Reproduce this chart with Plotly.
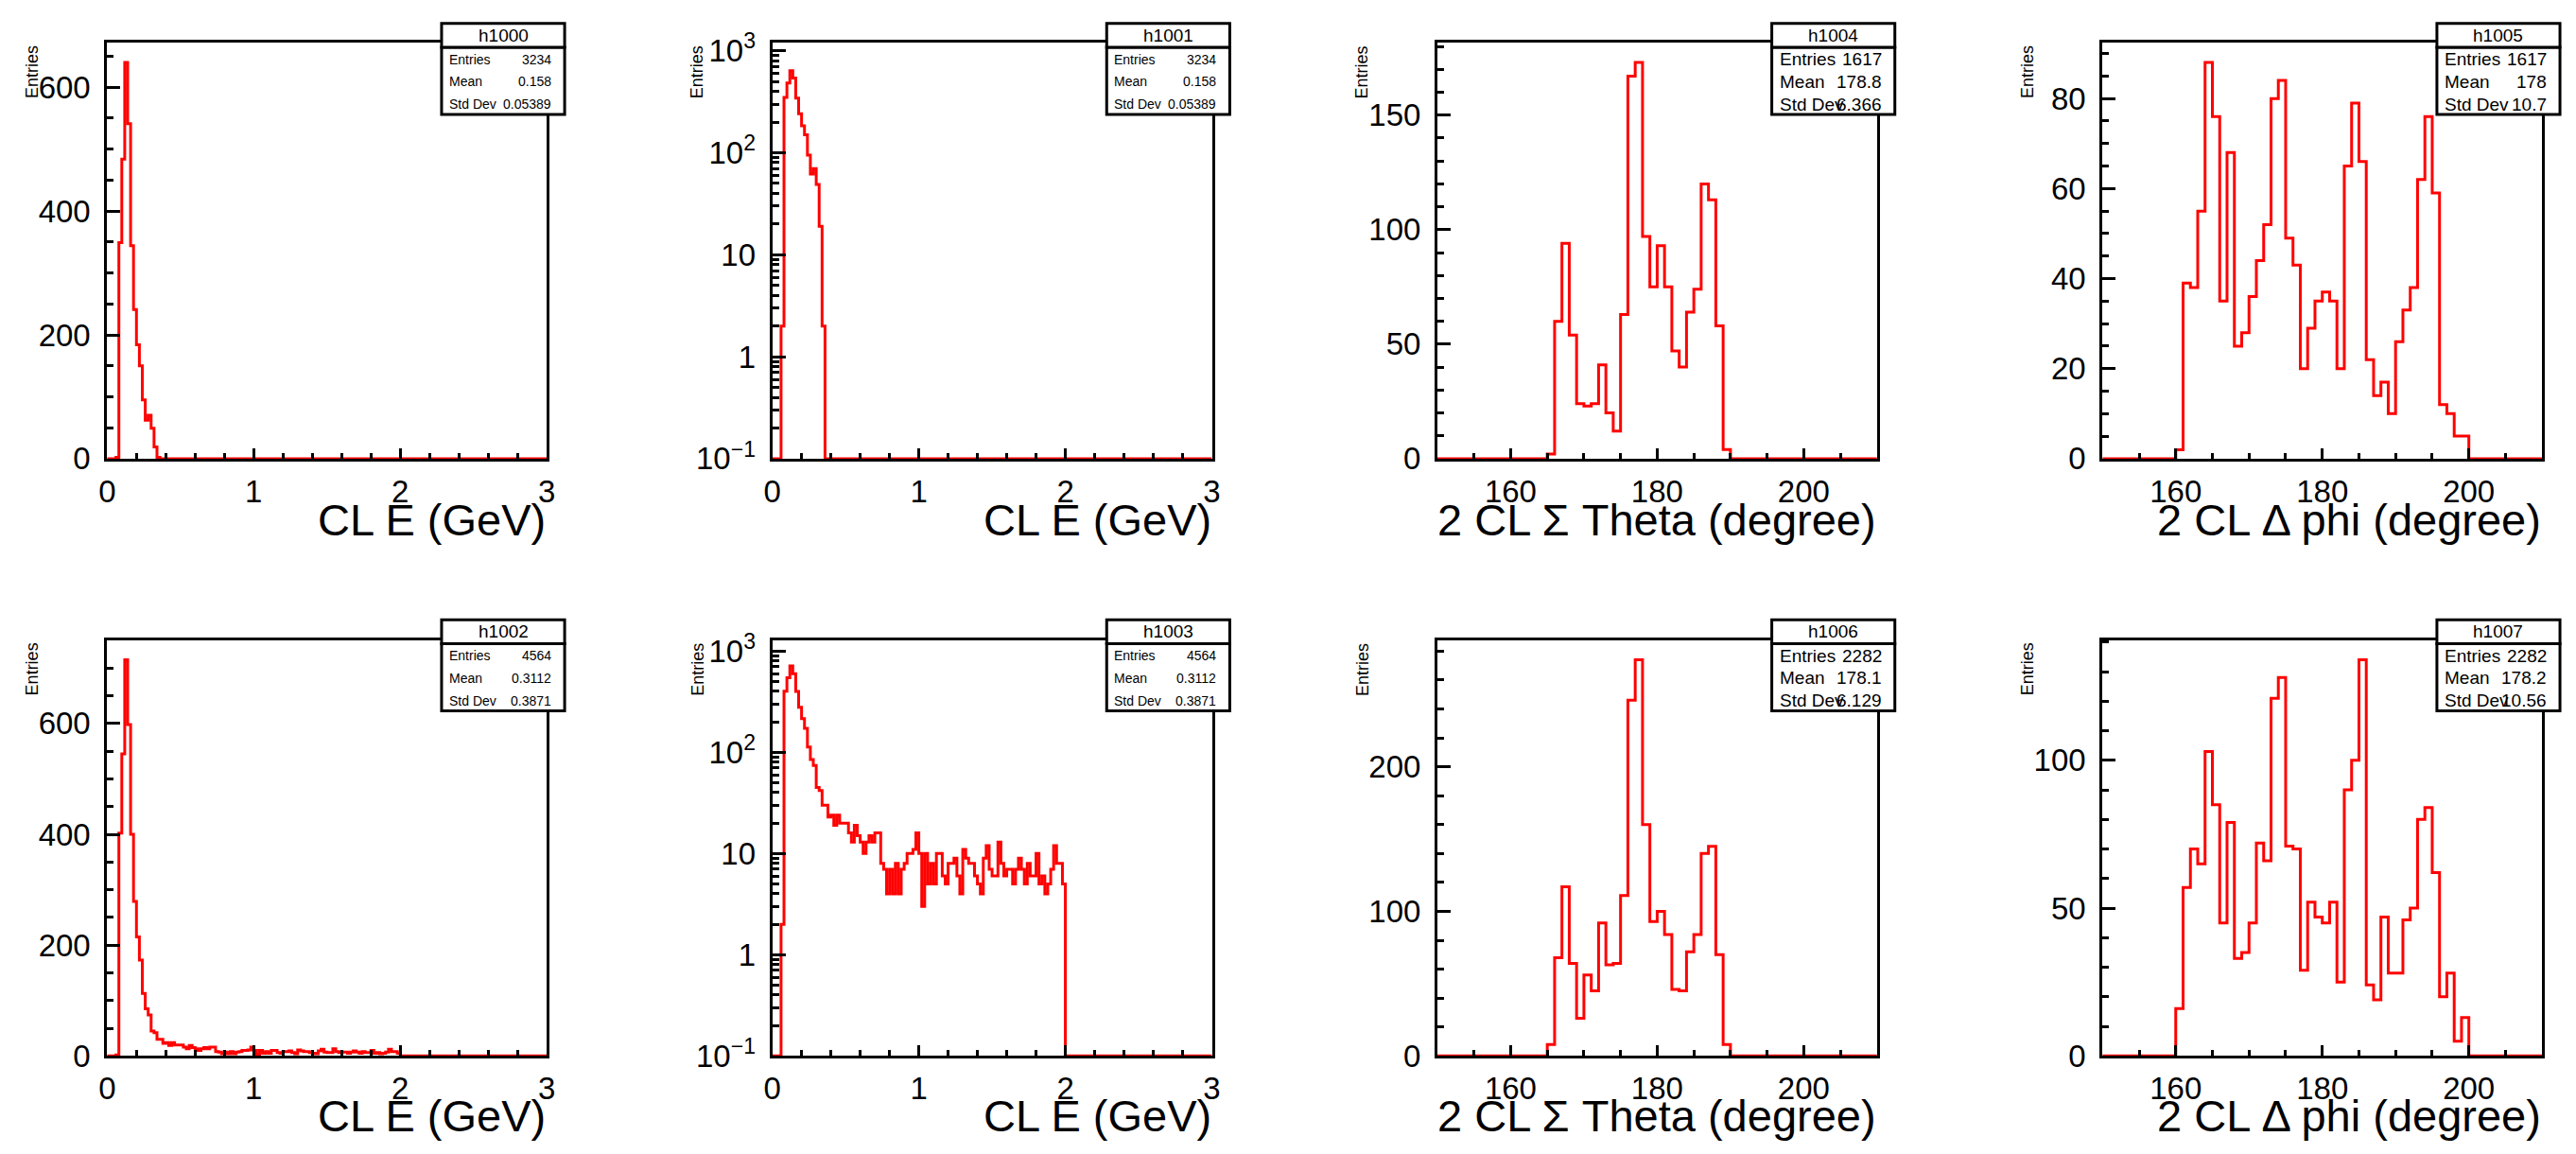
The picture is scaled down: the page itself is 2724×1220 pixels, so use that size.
import plotly.graph_objects as go

W, H = 2724, 1220
FONT = "Liberation Sans, Arial, Helvetica, sans-serif"

# ---------------- data ----------------
E_LO, E_HI, E_NBINS = 0.0, 3.0, 150          # CL E histograms (GeV)
A_LO, A_HI, A_NBINS = 150.0, 210.0, 60       # angle histograms (degree)

# h1000 / h1001 (same content, linear / log)
h1000_first = 0.06
h1000_counts = [2, 349, 484, 640, 541, 344, 241, 184, 150, 95, 62, 70, 49, 19, 2]

# h1002 / h1003 (same content, linear / log)
h1002_first = 0.06
h1002_counts = [2, 402, 545, 715, 598, 400, 279, 215, 173, 113, 85, 74,
                45, 42, 30, 30, 23, 24, 19, 24, 20, 20, 20, 16, 13, 19, 15, 13, 10, 13, 15, 13, 16, 16,
                8, 7, 4, 7, 4, 8, 4, 7, 8, 10, 10, 11, 16, 10, 3, 10, 5, 8, 5, 10,
                10, 6, 5, 8, 8, 9, 6, 4, 11, 9, 8, 8, 6, 5, 4, 9, 12, 7, 6, 6,
                13, 8, 6, 7, 7, 5, 7, 9, 7, 5, 8, 6, 6, 10, 5, 6, 4, 5, 7, 12,
                8, 8, 5]

h1004_first = 165
h1004_counts = [2, 60, 94, 54, 24, 23, 24, 41, 20, 12, 63, 167, 173, 97, 75, 93, 75, 47, 40, 64,
                74, 120, 113, 58, 4]

h1005_first = 160
h1005_counts = [2, 39, 38, 55, 88, 76, 35, 68, 25, 28, 36, 44, 52, 80, 84, 49, 43, 20, 29, 35,
                37, 35, 20, 65, 79, 66, 22, 14, 17, 10, 26, 33, 38, 62, 76, 59, 12, 10, 5, 5]

h1006_first = 165
h1006_counts = [8, 68, 117, 64, 26, 56, 45, 92, 63, 64, 111, 246, 274, 160, 93, 100, 84, 46, 45, 72,
                84, 140, 145, 70, 8]

h1007_first = 160
h1007_counts = [16, 57, 70, 65, 103, 85, 45, 79, 33, 35, 45, 72, 66, 121, 128, 71, 70, 29, 52, 47,
                45, 52, 25, 90, 100, 134, 24, 19, 47, 28, 28, 46, 50, 80, 84, 62, 20, 28, 5, 13]

hist_names = ["h1000", "h1001", "h1004", "h1005", "h1002", "h1003", "h1006", "h1007"]
stat_entries = ["3234", "3234", "1617", "1617", "4564", "4564", "2282", "2282"]
stat_means = ["0.158", "0.158", "178.8", "178", "0.3112", "0.3112", "178.1", "178.2"]
stat_stddevs = ["0.05389", "0.05389", "6.366", "10.7", "0.3871", "0.3871", "6.129", "10.56"]

E_TITLE = "CL E (GeV)"
THETA_TITLE = "2 CL \u03a3 Theta (degree)"
PHI_TITLE = "2 CL \u0394 phi (degree)"
Y_TITLE = "Entries"


def full_hist(first, counts, lo, hi, nbins):
    width = (hi - lo) / nbins
    start = int(round((first - lo) / width))
    vals = [0.0] * nbins
    for i, c in enumerate(counts):
        vals[start + i] = c
    edges = [lo + width * k for k in range(nbins + 1)]
    return edges, vals


eE0, vE0 = full_hist(h1000_first, h1000_counts, E_LO, E_HI, E_NBINS)
eE1, vE1 = full_hist(h1002_first, h1002_counts, E_LO, E_HI, E_NBINS)
eA4, vA4 = full_hist(h1004_first, h1004_counts, A_LO, A_HI, A_NBINS)
eA5, vA5 = full_hist(h1005_first, h1005_counts, A_LO, A_HI, A_NBINS)
eA6, vA6 = full_hist(h1006_first, h1006_counts, A_LO, A_HI, A_NBINS)
eA7, vA7 = full_hist(h1007_first, h1007_counts, A_LO, A_HI, A_NBINS)

# panel: (col,row, edges, values, kind, xtitle, ydtick, yminor, logtop)
panels = [
    (0, 0, eE0, vE0, "Elin", E_TITLE, 200, 50, None),
    (1, 0, eE0, vE0, "Elog", E_TITLE, None, None, 3.08),
    (2, 0, eA4, vA4, "A", THETA_TITLE, 50, 10, None),
    (3, 0, eA5, vA5, "A", PHI_TITLE, 20, 5, None),
    (0, 1, eE1, vE1, "Elin", E_TITLE, 200, 50, None),
    (1, 1, eE1, vE1, "Elog", E_TITLE, None, None, 3.11),
    (2, 1, eA6, vA6, "A", THETA_TITLE, 100, 20, None),
    (3, 1, eA7, vA7, "A", PHI_TITLE, 50, 10, None),
]

# ---------------- layout geometry (pixels) ----------------
COL_L = [105, 813, 1521, 2229]
FW, FH = 468, 452
ROW_T = [32, 681]
ROW_PITCH = 648
TICK_FS = 33
XTITLE_FS = 47


def px(x):
    return x / W


def py(y):
    return 1 - y / H


fig = go.Figure()
shapes = []
annotations = []

axis_common = dict(
    showline=True, linecolor="black", linewidth=3, mirror=True,
    ticks="inside", tickcolor="black", tickwidth=3,
    showgrid=False, zeroline=False,
    tickfont=dict(family=FONT, size=TICK_FS, color="black"),
)

for i, (c, r, edges, vals, kind, xtitle, ydt, ymin_dt, logtop) in enumerate(panels):
    n = i + 1
    L = COL_L[c]
    R = L + FW
    T = ROW_T[r]
    B = T + FH
    xa = "x" if n == 1 else f"x{n}"
    ya = "y" if n == 1 else f"y{n}"

    yvals = list(vals) + [vals[-1]]
    if kind == "Elog":
        yvals = [v if v > 0 else 0.1 for v in yvals]

    fig.add_trace(go.Scatter(
        x=edges, y=yvals, mode="lines", line=dict(color="#ff0000", width=3, shape="hv"),
        xaxis=xa, yaxis=ya, showlegend=False, hoverinfo="skip"))

    xax = dict(axis_common, domain=[px(L), px(R)], anchor=ya, ticklen=11,
               ticklabelstandoff=3)
    if kind in ("Elin", "Elog"):
        xax.update(range=[E_LO, E_HI], tickmode="linear", tick0=0, dtick=1,
                   minor=dict(ticks="inside", dtick=0.2, tick0=0, ticklen=6,
                              tickwidth=3, tickcolor="black"))
    else:
        xax.update(range=[A_LO, A_HI], tickmode="linear", tick0=0, dtick=20,
                   minor=dict(ticks="inside", dtick=5, tick0=0, ticklen=6,
                              tickwidth=3, tickcolor="black"))

    yax = dict(axis_common, domain=[py(B), py(T)], anchor=xa, ticklen=14,
               ticklabelstandoff=8)
    if kind == "Elog":
        minor_vals = [m * 10 ** d for d in range(-1, 3) for m in range(2, 10)]
        yax.update(type="log", range=[-1, logtop], tickmode="array",
                   tickvals=[0.1, 1, 10, 100, 1000],
                   ticktext=["10<sup>\u22121</sup>", "1", "10", "10<sup>2</sup>", "10<sup>3</sup>"],
                   minor=dict(ticks="inside", tickmode="array", tickvals=minor_vals,
                              ticklen=7, tickwidth=3, tickcolor="black"))
    else:
        ymax = 1.05 * max(vals)
        yax.update(range=[0, ymax], tickmode="linear", tick0=0, dtick=ydt,
                   minor=dict(ticks="inside", dtick=ymin_dt, tick0=0, ticklen=7,
                              tickwidth=3, tickcolor="black"))

    fig.layout["xaxis" if n == 1 else f"xaxis{n}"] = xax
    fig.layout["yaxis" if n == 1 else f"yaxis{n}"] = yax

    # x title (right aligned)
    annotations.append(dict(
        text=xtitle, x=px(R + 1), y=py(550 + r * ROW_PITCH), xref="paper", yref="paper",
        xanchor="right", yanchor="middle", showarrow=False,
        font=dict(family=FONT, size=XTITLE_FS, color="black")))
    # y title
    annotations.append(dict(
        text=Y_TITLE, x=px(L - 80), y=py(T + 1), xref="paper", yref="paper",
        xanchor="center", yanchor="top", textangle=-90, showarrow=False,
        font=dict(family=FONT, size=18, color="black")))

    # stats box
    bl, br = R - 112, R + 19
    bt = 11 + r * ROW_PITCH
    bd = 37 + r * ROW_PITCH
    bb = 110 + r * ROW_PITCH
    shapes.append(dict(type="rect", xref="paper", yref="paper",
                       x0=px(bl), x1=px(br), y0=py(bb), y1=py(bd),
                       line=dict(color="black", width=3), fillcolor="white", layer="above"))
    shapes.append(dict(type="rect", xref="paper", yref="paper",
                       x0=px(bl), x1=px(br), y0=py(bd), y1=py(bt),
                       line=dict(color="black", width=3), fillcolor="white", layer="above"))
    annotations.append(dict(
        text=hist_names[i], x=px((bl + br) / 2), y=py((bt + bd) / 2),
        xref="paper", yref="paper", xanchor="center", yanchor="middle", showarrow=False,
        font=dict(family=FONT, size=19, color="black")))
    fs = 14 if kind in ("Elin", "Elog") else 19
    rows = [("Entries", stat_entries[i]), ("Mean", stat_means[i]), ("Std Dev", stat_stddevs[i])]
    for j, (lab, val) in enumerate(rows):
        yy = bd + 13 + j * 24.5
        annotations.append(dict(
            text=lab, x=px(bl + 6), y=py(yy), xref="paper", yref="paper",
            xanchor="left", yanchor="middle", showarrow=False,
            font=dict(family=FONT, size=fs, color="black")))
        annotations.append(dict(
            text=val, x=px(br - 12), y=py(yy), xref="paper", yref="paper",
            xanchor="right", yanchor="middle", showarrow=False,
            font=dict(family=FONT, size=fs, color="black")))

fig.update_layout(
    width=W, height=H, autosize=False,
    margin=dict(l=0, r=0, t=0, b=0, pad=0),
    paper_bgcolor="white", plot_bgcolor="white",
    showlegend=False, shapes=shapes, annotations=annotations,
    font=dict(family=FONT, color="black"),
)

fig.write_html("out.html", config={"displayModeBar": False},
               post_script="document.body.style.margin='0';document.body.style.overflow='hidden';")
